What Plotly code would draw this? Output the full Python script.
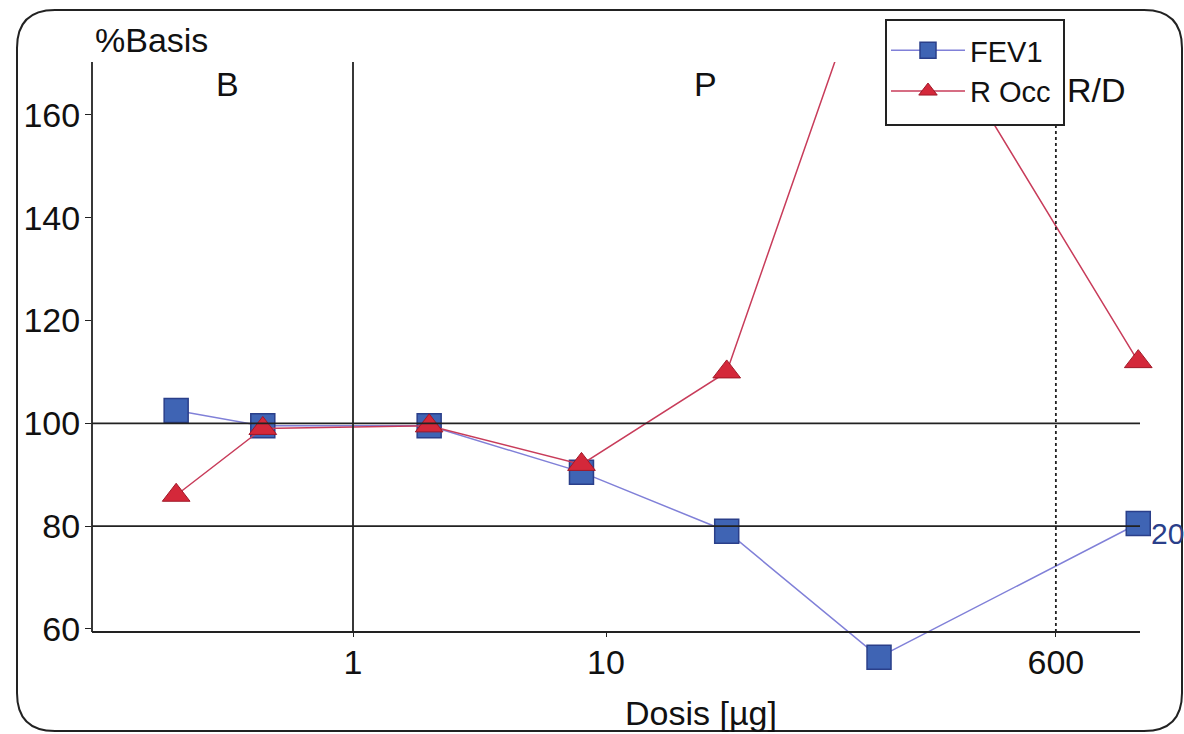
import plotly.graph_objects as go

# ---- data ----
dose = [0.2, 0.44, 2, 8, 30, 120, 1270]
fev1 = [102.5, 99.5, 99.5, 90.5, 79, 54.5, 80.5]
rocc = [86, 99, 99.5, 92, 110, 195, 112]
x_ticks = [1, 10, 600]
x_ticktext = ["1", "10", "600"]
y_ticks = [60, 80, 100, 120, 140, 160]
phase_lines = [1, 600]
ref_levels = [80, 100]
y_axis_min = 59.4
y_top = 170.3
y_view_min = 52.0

W, H = 1184, 734
L, R, T, B = 92, 44, 62, 64
pw, ph = W - L - R, H - T - B

def px(xp):
    return (xp - L) / pw

def py(yp):
    return (H - B - yp) / ph

FONT = "Liberation Sans, Arial, sans-serif"
BIG = 34

fig = go.Figure()
fig.add_trace(go.Scatter(
    x=dose, y=fev1, name="FEV1", mode="lines+markers", cliponaxis=False,
    line=dict(color="#8080d8", width=1.5),
    marker=dict(symbol="square", size=24, color="#3f64b4",
                line=dict(color="#2a3f8a", width=1.5)),
))
fig.add_trace(go.Scatter(
    x=dose, y=rocc, name="R Occ", mode="lines+markers", cliponaxis=False,
    line=dict(color="#c83c5a", width=1.5),
    marker=dict(symbol="triangle-up", size=24, color="#d4283a",
                line=dict(color="#a01828", width=1)),
))

shapes = []
for lv in ref_levels:
    shapes.append(dict(type="line", xref="paper", yref="y", x0=0, x1=1,
                       y0=lv, y1=lv, line=dict(color="#222", width=1.8)))
for i, v in enumerate(phase_lines):
    shapes.append(dict(type="line", xref="x", yref="y", x0=v, x1=v,
                       y0=y_axis_min, y1=y_top,
                       line=dict(color="#222", width=1.8,
                                 dash="solid" if i == 0 else "dot")))
# y-axis line (stops at the x axis)
shapes.append(dict(type="line", xref="paper", yref="y", x0=0, x1=0,
                   y0=y_axis_min, y1=y_top, line=dict(color="#222", width=1.8)))
# rounded frame
x0, x1, y0, y1, r = 17, 1182, 10, 731, 38
path = (f"M {px(x0)},{py(y0 + r)} Q {px(x0)},{py(y0)} {px(x0 + r)},{py(y0)} "
        f"L {px(x1 - r)},{py(y0)} Q {px(x1)},{py(y0)} {px(x1)},{py(y0 + r)} "
        f"L {px(x1)},{py(y1 - r)} Q {px(x1)},{py(y1)} {px(x1 - r)},{py(y1)} "
        f"L {px(x0 + r)},{py(y1)} Q {px(x0)},{py(y1)} {px(x0)},{py(y1 - r)} Z")
shapes.append(dict(type="path", xref="paper", yref="paper", path=path,
                   line=dict(color="#222", width=2), layer="below"))
# legend box
shapes.append(dict(type="rect", xref="paper", yref="paper",
                   x0=px(886), x1=px(1064), y0=py(125), y1=py(20),
                   fillcolor="white", line=dict(color="#222", width=2),
                   layer="above"))

def label(text, xp, yp, size=BIG, xanchor="center"):
    return dict(text=text, xref="paper", yref="paper", x=px(xp), y=py(yp),
                xanchor=xanchor, yanchor="middle", showarrow=False,
                font=dict(size=size, color="#111"))

annotations = [
    label("%Basis", 93, 40, xanchor="left"),
    label("B", 227, 84),
    label("P", 705, 84),
    label("R/D", 1065, 90, xanchor="left"),
    label("Dosis [µg]", 701, 713),
    dict(text="20", x=3.0969, y=fev1[-1], xref="x", yref="y",
         xanchor="left", yanchor="middle", xshift=12, yshift=-10,
         showarrow=False, font=dict(size=30, color="#2a3f8a")),
]

fig.update_layout(
    width=W, height=H,
    margin=dict(l=L, r=R, t=T, b=B, autoexpand=False),
    paper_bgcolor="white", plot_bgcolor="white",
    font=dict(family=FONT, color="#111"),
    showlegend=True,
    legend=dict(x=px(886), y=py(25), xanchor="left", yanchor="top",
                bgcolor="rgba(0,0,0,0)", borderwidth=0,
                font=dict(size=29, color="#111"), itemwidth=74,
                tracegroupgap=0),
    shapes=shapes,
    annotations=annotations,
    xaxis=dict(type="log", range=[(L - 353) / 253, (W - R - 353) / 253],
               anchor="free",
               position=(y_axis_min - y_view_min) / (y_top - y_view_min),
               tickvals=x_ticks, ticktext=x_ticktext,
               showgrid=False, zeroline=False, showline=True,
               linecolor="#222", linewidth=1.8, ticks="outside",
               ticklen=4, tickcolor="#222", ticklabelstandoff=-4,
               tickfont=dict(size=BIG)),
    yaxis=dict(range=[y_view_min, y_top], tickvals=y_ticks,
               showgrid=False, zeroline=False, showline=False,
               ticks="outside", ticklen=6, tickcolor="#222",
               ticklabelstandoff=-2, tickfont=dict(size=BIG)),
)

fig.write_html("out.html", config={"displayModeBar": False},
               post_script="document.body.style.margin='0';")
